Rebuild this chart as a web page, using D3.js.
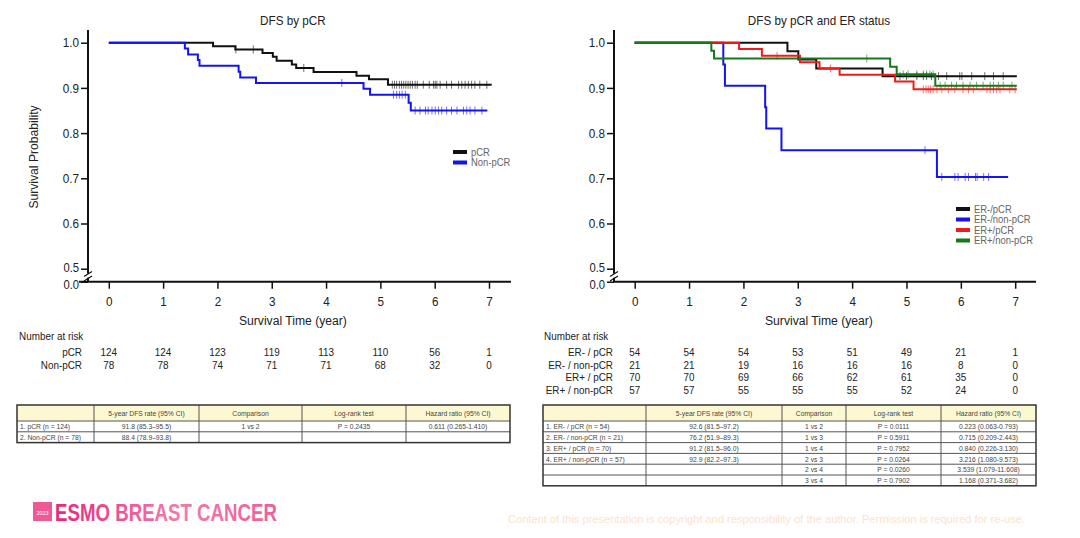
<!DOCTYPE html>
<html>
<head>
<meta charset="utf-8">
<script src="https://cdn.jsdelivr.net/npm/d3@7"></script>
<style>
  body { margin: 0; background: #fff; }
  svg { display: block; }
  text { font-family: "Liberation Sans", Arial, sans-serif; }
</style>
</head>
<body>
<svg id="chart" width="1080" height="538"></svg>
<script>
// Data

const years = [0, 1, 2, 3, 4, 5, 6, 7]
const yTicks = [0, 0.5, 0.6, 0.7, 0.8, 0.9, 1.0]

// DFS by pCR: [time, survival after drop]
const pcrSteps = [[1.92, 0.992], [2.33, 0.985], [2.83, 0.977], [3.02, 0.969], [3.09, 0.960], [3.37, 0.952],
  [3.45, 0.944], [3.77, 0.935], [4.56, 0.927], [4.79, 0.919], [5.14, 0.907]]
const pcrCensor = [2.34, 2.66, 3.59, 5.22, 5.26, 5.30, 5.35, 5.39, 5.43, 5.47, 5.51, 5.55, 5.59, 5.64, 5.68,
  5.79, 5.90, 5.98, 6.01, 6.04, 6.10, 6.22, 6.31, 6.44, 6.50, 6.56, 6.62, 6.68, 6.74, 6.83, 6.96]
const nonPcrSteps = [[1.40, 0.987], [1.46, 0.974], [1.64, 0.962], [1.67, 0.949], [2.39, 0.936], [2.42, 0.923],
  [2.71, 0.911], [4.69, 0.898], [4.81, 0.885], [5.52, 0.867], [5.56, 0.850]]
const nonPcrCensor = [4.29, 5.24, 5.30, 5.35, 5.40, 5.46, 5.64, 5.73, 5.83, 5.88, 5.95, 6.01, 6.07, 6.13,
  6.22, 6.31, 6.41, 6.53, 6.59, 6.65, 6.74, 6.87]

// DFS by pCR and ER status
const erNegPcrSteps = [[2.81, 0.981], [3.01, 0.963], [3.34, 0.943], [4.56, 0.926]]
const erNegPcrCensor = [4.88, 5.0, 5.19, 5.31, 5.37, 5.46, 5.59, 5.74, 5.98, 6.02, 6.20, 6.44, 6.60, 6.78]
const erNegNonSteps = [[1.63, 0.952], [1.66, 0.905], [2.40, 0.857], [2.42, 0.810], [2.70, 0.762], [5.56, 0.703]]
const erNegNonCensor = [5.34, 5.65, 5.89, 5.95, 6.08, 6.14, 6.27, 6.30, 6.42, 6.51]
const erPosPcrSteps = [[1.92, 0.986], [2.34, 0.971], [3.04, 0.957], [3.40, 0.943], [3.77, 0.929], [4.79, 0.914], [5.13, 0.897]]
const erPosPcrCensor = [2.62, 3.60, 5.31, 5.36, 5.40, 5.44, 5.49, 5.56, 5.65, 5.77, 5.89, 6.04, 6.14, 6.23,
  6.48, 6.54, 6.60, 6.66, 6.72, 6.90, 7.0]
const erPosNonSteps = [[1.41, 0.982], [1.46, 0.965], [4.70, 0.947], [4.82, 0.930], [5.53, 0.905]]
const erPosNonCensor = [4.27, 4.94, 5.03, 5.19, 5.31, 5.37, 5.43, 5.49, 5.62, 5.71, 5.83, 5.92, 6.04, 6.17,
  6.29, 6.41, 6.54, 6.60, 6.69, 6.78, 6.94]

// Number at risk
const pcrRisk = [124, 124, 123, 119, 113, 110, 56, 1]
const nonPcrRisk = [78, 78, 74, 71, 71, 68, 32, 0]
const erNegPcrRisk = [54, 54, 54, 53, 51, 49, 21, 1]
const erNegNonRisk = [21, 21, 19, 16, 16, 16, 8, 0]
const erPosPcrRisk = [70, 70, 69, 66, 62, 61, 35, 0]
const erPosNonRisk = [57, 57, 55, 55, 55, 52, 24, 0]

// Summary tables
const tableHead = ['', '5-year DFS rate (95% CI)', 'Comparison', 'Log-rank test', 'Hazard ratio (95% CI)']
const leftTableRows = [
  ['1. pCR (n = 124)', '91.8 (85.3–95.5)', '1 vs 2', 'P = 0.2435', '0.611 (0.265-1.410)'],
  ['2. Non-pCR (n = 78)', '88.4 (78.9–93.8)', '', '', ''],
]
const rightTableRows = [
  ['1. ER- / pCR (n = 54)', '92.6 (81.5–97.2)', '1 vs 2', 'P = 0.0111', '0.223 (0.063-0.793)'],
  ['2. ER- / non-pCR (n = 21)', '76.2 (51.9–89.3)', '1 vs 3', 'P = 0.5911', '0.715 (0.209-2.443)'],
  ['3. ER+ / pCR (n = 70)', '91.2 (81.5–96.0)', '1 vs 4', 'P = 0.7952', '0.840 (0.226-3.130)'],
  ['4. ER+ / non-pCR (n = 57)', '92.9 (82.2–97.3)', '2 vs 3', 'P = 0.0264', '3.216 (1.080-9.573)'],
  ['', '', '2 vs 4', 'P = 0.0260', '3.539 (1.079-11.608)'],
  ['', '', '3 vs 4', 'P = 0.7902', '1.168 (0.371-3.682)'],
]

// Panels

const panels = [
  {
    title: 'DFS by pCR',
    yLabel: 'Survival Probability',
    yAxisX: 88, xAxisFrom: 79, xAxisTo: 511, xRange: [108.8, 489],
    legendX: 453, legendY: 152,
    riskLabelX: 82,
    series: [
      { name: 'pCR', risk: 'pCR', color: '#111', steps: pcrSteps, end: 7.05, censor: pcrCensor, atRisk: pcrRisk },
      { name: 'Non-pCR', risk: 'Non-pCR', color: '#1414f0', steps: nonPcrSteps, end: 6.97, censor: nonPcrCensor, atRisk: nonPcrRisk },
    ],
    table: { rows: leftTableRows, cols: [17, 94, 199, 302, 406, 510] },
  },
  {
    title: 'DFS by pCR and ER status',
    yLabel: null,
    yAxisX: 614, xAxisFrom: 613, xAxisTo: 1036, xRange: [634.7, 1015.2],
    legendX: 956, legendY: 209,
    riskLabelX: 613,
    series: [
      { name: 'ER-/pCR', risk: 'ER- / pCR', color: '#111', steps: erNegPcrSteps, end: 7.03, censor: erNegPcrCensor, atRisk: erNegPcrRisk },
      { name: 'ER-/non-pCR', risk: 'ER- / non-pCR', color: '#1414f0', steps: erNegNonSteps, end: 6.87, censor: erNegNonCensor, atRisk: erNegNonRisk },
      { name: 'ER+/pCR', risk: 'ER+ / pCR', color: '#f01a1a', steps: erPosPcrSteps, end: 7.03, censor: erPosPcrCensor, atRisk: erPosPcrRisk },
      { name: 'ER+/non-pCR', risk: 'ER+ / non-pCR', color: '#16781a', steps: erPosNonSteps, end: 7.03, censor: erPosNonCensor, atRisk: erPosNonRisk },
    ],
    table: { rows: rightTableRows, cols: [543, 646, 782, 846, 941, 1036] },
  },
]

const SX = 0.9 // slide text is a bit condensed
const svg = d3.select('#chart')

function txt(g, x, y, s, { size = 12, anchor = 'start', fill = '#222', weight = null } = {}) {
  return g
    .append('text')
    .attr('transform', `translate(${x},${y}) scale(${SX},1)`)
    .attr('text-anchor', anchor)
    .attr('font-size', size)
    .attr('font-weight', weight)
    .attr('fill', fill)
    .text(s)
}

function survivalAt(steps, t) {
  let s = 1
  steps.forEach(([ts, v]) => {
    if (ts <= t) s = v
  })
  return s
}

panels.forEach(p => drawPanel(svg.append('g'), p))

function drawPanel(g, p) {
  const x = d3.scaleLinear().domain([0, 7]).range(p.xRange)
  const y = d3.scaleLinear().domain([0, 0.5, 1]).range([281.7, 268.7, 42.7])
  const midX = (p.xRange[0] + p.xRange[1]) / 2

  // Title & labels

  txt(g, midX - 6, 25, p.title, { size: 13, anchor: 'middle' })
  txt(g, midX - 6, 325, 'Survival Time (year)', { size: 13.5, anchor: 'middle' })
  if (p.yLabel) {
    g.append('text')
      .attr('transform', `translate(38,157) rotate(-90) scale(${SX},1)`)
      .attr('text-anchor', 'middle')
      .attr('font-size', 13.5)
      .attr('fill', '#222')
      .text(p.yLabel)
  }

  // Axes

  const xAxis = g
    .append('g')
    .attr('transform', `translate(0,${y(0)})`)
    .call(d3.axisBottom(x).tickValues(years).tickFormat(d3.format('d')).tickSize(7).tickPadding(8))
  const yAxis = g
    .append('g')
    .attr('transform', `translate(${p.yAxisX},0)`)
    .call(d3.axisLeft(y).tickValues(yTicks).tickFormat(d3.format('.1f')).tickSize(7).tickPadding(3))

  ;[xAxis, yAxis].forEach(a => {
    a.select('.domain').remove()
    a.selectAll('.tick line').attr('stroke', '#111').attr('stroke-width', 1.5)
    a.selectAll('.tick text')
      .attr('font-size', 13)
      .attr('font-family', '"Liberation Sans", Arial, sans-serif')
      .attr('fill', '#222')
      .attr('transform', `scale(${SX},1)`)
  })
  // the broken scale squeezes 0.0 and 0.5 together: push their labels apart a little
  yAxis.selectAll('.tick text')
    .filter(d => d === 0 || d === 0.5)
    .attr('dy', d => (d === 0 ? '0.55em' : '0.2em'))
    .attr('font-size', 12.5)

  g.append('line')
    .attr('x1', p.xAxisFrom).attr('x2', p.xAxisTo)
    .attr('y1', y(0)).attr('y2', y(0))
    .attr('stroke', '#111').attr('stroke-width', 2)
  g.append('line')
    .attr('x1', p.yAxisX).attr('x2', p.yAxisX)
    .attr('y1', 30).attr('y2', y(0))
    .attr('stroke', '#111').attr('stroke-width', 2)

  // Axis break

  const by = (y(0) + y(0.5)) / 2 + 1
  g.append('rect').attr('x', p.yAxisX - 2).attr('y', by - 2.5).attr('width', 4).attr('height', 4).attr('fill', '#fff')
  ;[-2.2, 2.2].forEach(o =>
    g.append('line')
      .attr('x1', p.yAxisX - 4).attr('x2', p.yAxisX + 4)
      .attr('y1', by + o + 2.5).attr('y2', by + o - 2.5)
      .attr('stroke', '#111').attr('stroke-width', 1.2),
  )

  // Curves & censor marks

  const line = d3
    .line()
    .x(d => x(d[0]))
    .y(d => y(d[1]))
    .curve(d3.curveStepAfter)

  p.series.forEach(s => {
    const pts = [[0, 1], ...s.steps, [s.end, s.steps[s.steps.length - 1][1]]]
    g.append('path')
      .attr('d', line(pts))
      .attr('fill', 'none')
      .attr('stroke', s.color)
      .attr('stroke-width', 2)

    g.append('g')
      .selectAll('line')
      .data(s.censor)
      .join('line')
      .attr('x1', d => x(d)).attr('x2', d => x(d))
      .attr('y1', d => y(survivalAt(s.steps, d)) - 4)
      .attr('y2', d => y(survivalAt(s.steps, d)) + 4)
      .attr('stroke', s.color)
      .attr('stroke-opacity', 0.6)
      .attr('stroke-width', 1)
  })

  // Legend

  p.series.forEach((s, i) => {
    const ly = p.legendY + i * 10.5
    g.append('line')
      .attr('x1', p.legendX).attr('x2', p.legendX + 14)
      .attr('y1', ly).attr('y2', ly)
      .attr('stroke', s.color).attr('stroke-width', 4)
    txt(g, p.legendX + 18, ly + 3.5, s.name, { size: 10.5, fill: '#666' })
  })

  // Number at risk

  const riskLeft = p.yLabel ? 19 : 544
  txt(g, riskLeft, 340, 'Number at risk', { size: 11 })
  p.series.forEach((s, i) => {
    const ry = 356 + i * 12.7
    txt(g, p.riskLabelX, ry, s.risk, { size: 11, anchor: 'end' })
    s.atRisk.forEach((v, k) => txt(g, x(years[k]), ry, v, { size: 11, anchor: 'middle' }))
  })

  drawTable(g, p.table)
}

function drawTable(g, { rows, cols }) {
  const top = 405
  const headH = 16
  const rowH = 10.8
  const bottom = top + headH + rows.length * rowH
  const left = cols[0]
  const right = cols[cols.length - 1]

  g.append('rect')
    .attr('x', left).attr('y', top)
    .attr('width', right - left).attr('height', headH)
    .attr('fill', '#fcf9d2')

  const rowYs = d3.range(rows.length + 1).map(i => top + headH + i * rowH)
  rowYs.slice(0, -1).forEach(ry =>
    g.append('line').attr('x1', left).attr('x2', right).attr('y1', ry).attr('y2', ry)
      .attr('stroke', '#555').attr('stroke-width', 1),
  )
  cols.slice(1, -1).forEach(cx =>
    g.append('line').attr('x1', cx).attr('x2', cx).attr('y1', top).attr('y2', bottom)
      .attr('stroke', '#555').attr('stroke-width', 1),
  )
  g.append('rect')
    .attr('x', left).attr('y', top)
    .attr('width', right - left).attr('height', bottom - top)
    .attr('fill', 'none').attr('stroke', '#333').attr('stroke-width', 1.5)

  const cell = (str, c, cy) => {
    if (!str) return
    if (c === 0) txt(g, cols[0] + 3, cy, str, { size: 7.5, fill: '#444' })
    else txt(g, (cols[c] + cols[c + 1]) / 2, cy, str, { size: 7.5, anchor: 'middle', fill: '#444' })
  }
  tableHead.forEach((h, c) => cell(h, c, top + headH / 2 + 2.7))
  rows.forEach((r, i) => r.forEach((v, c) => cell(v, c, rowYs[i] + rowH / 2 + 2.7)))
}

// Footer

const defs = svg.append('defs')
const grad = defs.append('linearGradient').attr('id', 'logoGrad').attr('x1', '0%').attr('x2', '100%')
grad.append('stop').attr('offset', '0').attr('stop-color', '#e6277a')
grad.append('stop').attr('offset', '0.55').attr('stop-color', '#f27aaa')
grad.append('stop').attr('offset', '1').attr('stop-color', '#ee5f97')

svg.append('rect').attr('x', 33).attr('y', 502).attr('width', 19).attr('height', 19).attr('fill', '#ee5a96')
svg.append('text')
  .attr('x', 42.5).attr('y', 515)
  .attr('text-anchor', 'middle')
  .attr('font-size', 5.5)
  .attr('fill', '#fff')
  .text('2023')
svg.append('text')
  .attr('x', 55).attr('y', 521)
  .attr('font-size', 23)
  .attr('font-weight', 'bold')
  .attr('font-family', '"DejaVu Sans Condensed", "Liberation Sans Narrow", sans-serif')
  .attr('textLength', 222)
  .attr('lengthAdjust', 'spacingAndGlyphs')
  .attr('fill', 'url(#logoGrad)')
  .text('ESMO BREAST CANCER')
svg.append('text')
  .attr('x', 508).attr('y', 523)
  .attr('font-size', 10)
  .attr('textLength', 517)
  .attr('lengthAdjust', 'spacingAndGlyphs')
  .attr('fill', '#fde2cd')
  .text('Content of this presentation is copyright and responsibility of the author. Permission is required for re-use.')
</script>
</body>
</html>
